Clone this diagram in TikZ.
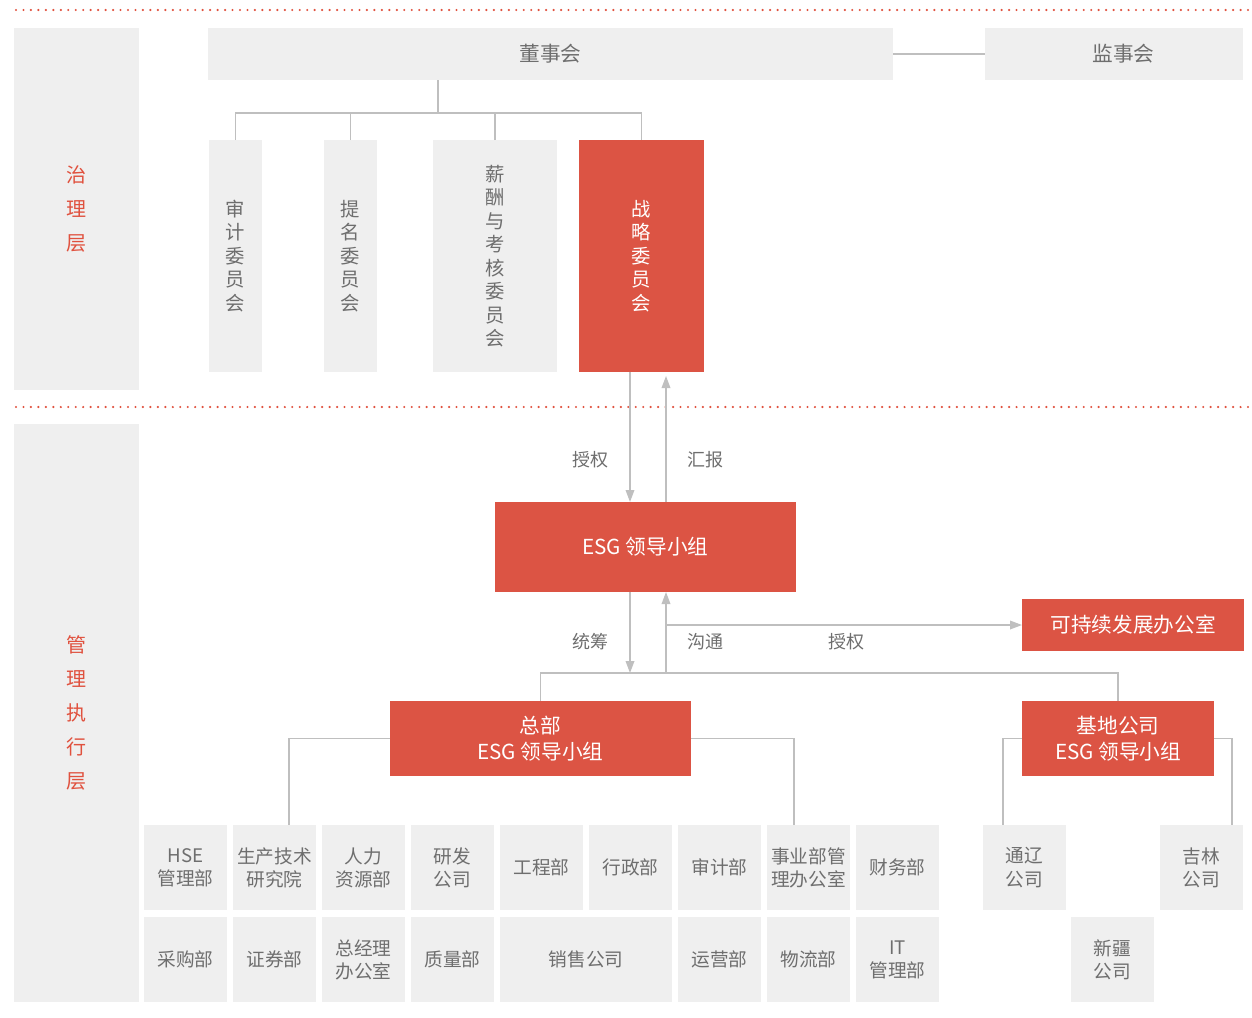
\documentclass[tikz,border=0pt]{standalone}
\usepackage{fontspec}
\setmainfont{Noto Sans CJK SC}
\usetikzlibrary{positioning,arrows.meta}

\definecolor{esgred}{HTML}{DC5444}
\definecolor{boxgrey}{HTML}{EFEFEF}
\definecolor{txtgrey}{HTML}{6E6E6E}
\definecolor{linegrey}{HTML}{BFBFBF}
\definecolor{layerred}{HTML}{E0513E}

\newcommand{\bigfont}{\fontsize{15.5}{19.5}\selectfont}

\tikzset{
    panel/.style={fill=boxgrey, inner sep=0pt, outer sep=0pt, align=center},
    greybox/.style={panel, text=txtgrey},
    redbox/.style={fill=esgred, text=white, inner sep=0pt, outer sep=0pt, align=center, font=\bigfont},
    layer/.style={panel, text=layerred, minimum width=93.75pt, font=\fontsize{15}{25.5}\selectfont},
    committee/.style={greybox, minimum height=174pt, font=\fontsize{14.5}{17.6}\selectfont},
    dept/.style={greybox, minimum width=62.25pt, minimum height=63.75pt, font=\fontsize{14}{17.3}\selectfont},
    link/.style={draw=linegrey, line width=1pt},
    flow/.style={link, -{Triangle[length=9pt,width=6.5pt]}},
    flowlabel/.style={text=txtgrey, font=\fontsize{13.5}{16}\selectfont},
    sep/.style={draw=layerred, line width=1.8pt, line cap=round, dash pattern=on 0pt off 5.6pt},
}

\begin{document}
\begin{tikzpicture}[x=0.75pt, y=-0.75pt]
    \useasboundingbox (0,0) rectangle (1252,1017);
    \draw[sep] (16,10) -- (1250,10);
    \draw[sep] (16,407) -- (1250,407);

    \node[layer, minimum height=271.5pt] (govern) at (76.5,209) {治\\理\\层};
    \node[layer, minimum height=433.5pt] (manage) at (76.5,713) {管\\理\\执\\行\\层};

    \node[greybox, minimum width=513.75pt, minimum height=39pt, font=\bigfont] (board) at (550.5,54) {董事会};
    \node[greybox, minimum width=193.5pt, minimum height=39pt, font=\bigfont] (supervisors) at (1114,54) {\hspace{14pt}监事会};

    \node[committee, minimum width=39.75pt] (audit) at (235.5,256) {审\\计\\委\\员\\会};
    \node[committee, minimum width=39.75pt] (nomination) at (350.5,256) {提\\名\\委\\员\\会};
    \node[committee, minimum width=93pt] (remuneration) at (495,256) {薪\\酬\\与\\考\\核\\委\\员\\会};
    \node[committee, redbox, font=\fontsize{14.5}{17.6}\selectfont, minimum width=93.75pt] (strategy) at (641.5,256) {战\\略\\委\\员\\会};

    \node[redbox, minimum width=225.75pt, minimum height=67.5pt] (esg) at (645.5,547) {ESG 领导小组};
    \node[redbox, minimum width=166.5pt, minimum height=39pt] (sdo) at (1133,625) {可持续发展办公室};
    \node[redbox, minimum width=225.75pt, minimum height=56.25pt] (hq) at (540.5,738.5) {总部\\ESG 领导小组};
    \node[redbox, minimum width=144pt, minimum height=56.25pt] (base) at (1118,738.5) {基地公司\\ESG 领导小组};

    \node[dept] (hse) at (185.5,867.5) {HSE\\管理部};
    \node[dept, right=4.5pt of hse] (tech) {生产技术\\研究院};
    \node[dept, right=4.5pt of tech] (hr) {人力\\资源部};
    \node[dept, right=4.5pt of hr] (rnd) {研发\\公司};
    \node[dept, right=4.5pt of rnd] (eng) {工程部};
    \node[dept, right=4.5pt of eng] (admin) {行政部};
    \node[dept, right=4.5pt of admin] (auditdept) {审计部};
    \node[dept, right=4.5pt of auditdept] (bizoffice) {事业部管\\理办公室};
    \node[dept, right=4.5pt of bizoffice] (finance) {财务部};

    \node[dept, below=5.25pt of hse] (purchase) {采购部};
    \node[dept, right=4.5pt of purchase] (securities) {证券部};
    \node[dept, right=4.5pt of securities] (gmoffice) {总经理\\办公室};
    \node[dept, right=4.5pt of gmoffice] (quality) {质量部};
    \node[dept, right=4.5pt of quality, minimum width=129pt] (sales) {销售公司};
    \node[dept, right=4.5pt of sales] (ops) {运营部};
    \node[dept, right=4.5pt of ops] (logistics) {物流部};
    \node[dept, right=4.5pt of logistics] (it) {IT\\管理部};

    \node[dept] (tongliao) at (1024.5,867.5) {通辽\\公司};
    \node[dept] (jilin) at (1201.5,867.5) {吉林\\公司};
    \node[dept, below=5.25pt of tongliao.south east, anchor=north west, xshift=3.75pt] (xinjiang) {新疆\\公司};

    \coordinate (split) at (438,113);
    \coordinate (downx) at (630,0);
    \coordinate (upx) at (666,0);
    \coordinate (bus) at (666,673);

    \draw[link] (board.east) -- (supervisors.west);
    \draw[link] (board.south -| split) -- (split);
    \draw[link] (audit.north) |- (split) -| (strategy.north);
    \draw[link] (nomination.north) -- (nomination.north |- split);
    \draw[link] (remuneration.north) -- (remuneration.north |- split);

    \draw[flow] (strategy.south -| downx) -- (esg.north -| downx);
    \draw[flow] (esg.north -| upx) -- ([yshift=-3pt]strategy.south -| upx);
    \draw[flow] (esg.south -| downx) -- (downx |- bus);
    \draw[flow] (bus) -- (esg.south -| upx);
    \draw[flow] (upx |- sdo.west) -- (sdo.west);

    \draw[link] (hq.north) -- (hq.north |- bus) -| (base.north);
    \draw[link] (hq.west) -| ([xshift=10.9pt]tech.north);
    \draw[link] (hq.east) -| ([xshift=-10.9pt]bizoffice.north);
    \draw[link] (base.west) -| ([xshift=-16.1pt]tongliao.north);
    \draw[link] (base.east) -| ([xshift=22.9pt]jilin.north);

    \node[flowlabel] (grant) at (590,460) {授权};
    \node[flowlabel] (report) at (705,460) {汇报};
    \node[flowlabel] (coord) at (590,642) {统筹};
    \node[flowlabel] (comm) at (705,642) {沟通};
    \node[flowlabel] (grantsdo) at (846,642) {授权};
\end{tikzpicture}
\end{document}
